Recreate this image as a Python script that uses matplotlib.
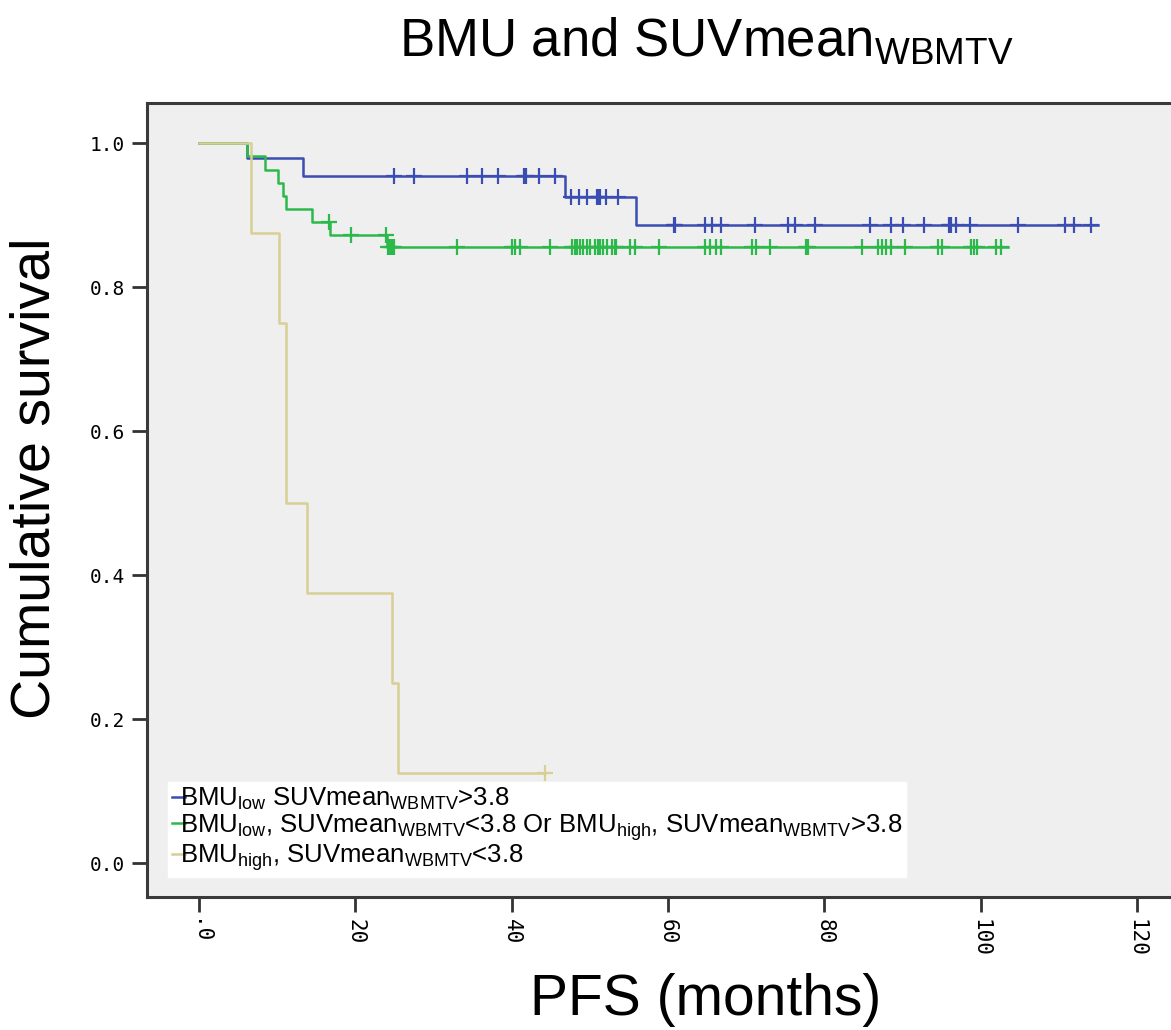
import numpy as np
import matplotlib
matplotlib.use("Agg")
import matplotlib.pyplot as plt

plt.rcParams['font.family'] = ['Liberation Sans', 'DejaVu Sans']
plt.rcParams['mathtext.fontset'] = 'custom'
plt.rcParams['mathtext.rm'] = 'Liberation Sans'
plt.rcParams['mathtext.it'] = 'Liberation Sans'
plt.rcParams['mathtext.default'] = 'regular'

# Kaplan-Meier steps (months, cumulative survival)
blue_t = [0, 6.1, 13.3, 46.8, 55.9, 115.0]
blue_s = [1.0, 0.979, 0.954, 0.925, 0.886, 0.886]
blue_cens = [24.9, 27.5, 34.3, 36.2, 38.3, 41.6, 41.8, 43.5, 45.5,
             47.6, 48.6, 49.6, 50.9, 51.1, 51.3, 52.1, 53.6,
             60.8, 60.9, 64.7, 65.6, 66.8, 71.1, 75.4, 76.3, 78.8, 85.9,
             88.5, 90.1, 92.8, 96.0, 96.2, 96.9, 98.7, 104.8, 110.8, 112.0, 114.1]

green_t = [0, 6.1, 8.4, 10.1, 10.8, 11.1, 14.5, 16.8, 24.0, 103.5]
green_s = [1.0, 0.982, 0.963, 0.945, 0.926, 0.909, 0.891, 0.872, 0.855, 0.855]
green_cens = [16.6, 19.5, 23.9,
              24.2, 24.4, 24.7, 24.9, 33.0, 40.0, 40.4, 41.1, 44.9, 47.7, 48.1,
              48.4, 48.7, 49.1, 49.6, 50.0, 50.7, 51.1, 51.3, 51.7, 52.2, 52.8,
              53.2, 53.4, 55.1, 55.8, 58.8, 64.7, 65.4, 66.1, 66.8, 70.7, 71.3,
              73.1, 77.7, 77.9, 84.8, 86.9, 87.4, 87.9, 88.5, 90.3, 94.5, 95.1,
              98.8, 99.2, 99.5, 102.0, 102.6]

yellow_t = [0, 6.7, 10.3, 11.1, 11.2, 13.8, 24.7, 25.5, 44.3]
yellow_s = [1.0, 0.875, 0.75, 0.625, 0.5, 0.375, 0.25, 0.125, 0.125]
yellow_cens = [44.3]

labels = [
    r"BMU$_{low}$ SUVmean$_{WBMTV}$>3.8",
    r"BMU$_{low}$, SUVmean$_{WBMTV}$<3.8 Or BMU$_{high}$, SUVmean$_{WBMTV}$>3.8",
    r"BMU$_{high}$, SUVmean$_{WBMTV}$<3.8",
]
colors = ['#3a4db3', '#2db84b', '#d8cf95']

x_ticks = [0, 20, 40, 60, 80, 100, 120]
x_ticklabels = ['.0', '20', '40', '60', '80', '100', '120']
y_ticks = [0.0, 0.2, 0.4, 0.6, 0.8, 1.0]


def surv_at(t, times, surv):
    i = np.searchsorted(times, t, side='right') - 1
    return np.asarray(surv)[i]


fig = plt.figure(figsize=(11.71, 10.30), dpi=100)
ax = fig.add_axes([0.1255, 0.1291, 1.0102 - 0.1255, 0.9 - 0.1291])
ax.set_facecolor('#efefef')

series = [(blue_t, blue_s, blue_cens), (green_t, green_s, green_cens),
          (yellow_t, yellow_s, yellow_cens)]
handles = []
for (t, s, c), col, lab in zip(series, colors, labels):
    h, = ax.plot(t, s, drawstyle='steps-post', color=col, lw=1.8, label=lab)
    handles.append(h)
    ax.plot(c, surv_at(np.array(c), t, s), linestyle='none', marker='+',
            color=col, markersize=12, mew=1.6)

ax.set_xlim(-6.65, 125.9)
ax.set_ylim(-0.047, 1.0556)
ax.set_xticks(x_ticks)
ax.set_xticklabels(x_ticklabels, rotation=-90, family='DejaVu Sans Mono', fontsize=15)
ax.set_yticks(y_ticks)
ax.set_yticklabels([f"{v:.1f}" for v in y_ticks], family='DejaVu Sans Mono', fontsize=14)
ax.tick_params(axis='both', length=11, width=2, color='#333333', pad=5)
for sp in ax.spines.values():
    sp.set_color('#3a3a3a')
    sp.set_linewidth(2.2)
ax.spines['right'].set_visible(False)

leg = ax.legend(handles=handles, loc='lower left', bbox_to_anchor=(0.0203, 0.025),
                borderaxespad=0, fontsize=18.5, handlelength=0.5, handletextpad=-0.2,
                labelspacing=0.0, borderpad=0.15, frameon=True, fancybox=False)
leg.get_frame().set_facecolor('white')
leg.get_frame().set_edgecolor('white')
leg.get_frame().set_alpha(1)

fig.text(0.603, 0.9447, r"BMU and SUVmean$_{WBMTV}$", fontsize=38,
         ha='center', va='baseline')
fig.text(36 / 1171, 1 - 478 / 1030, "Cumulative survival", fontsize=40,
         rotation=90, ha='center', va='center')
fig.text(706 / 1171, 1 - 1000 / 1030, "PFS (months)", fontsize=41,
         ha='center', va='center')

fig.savefig('out.png', dpi=100)
